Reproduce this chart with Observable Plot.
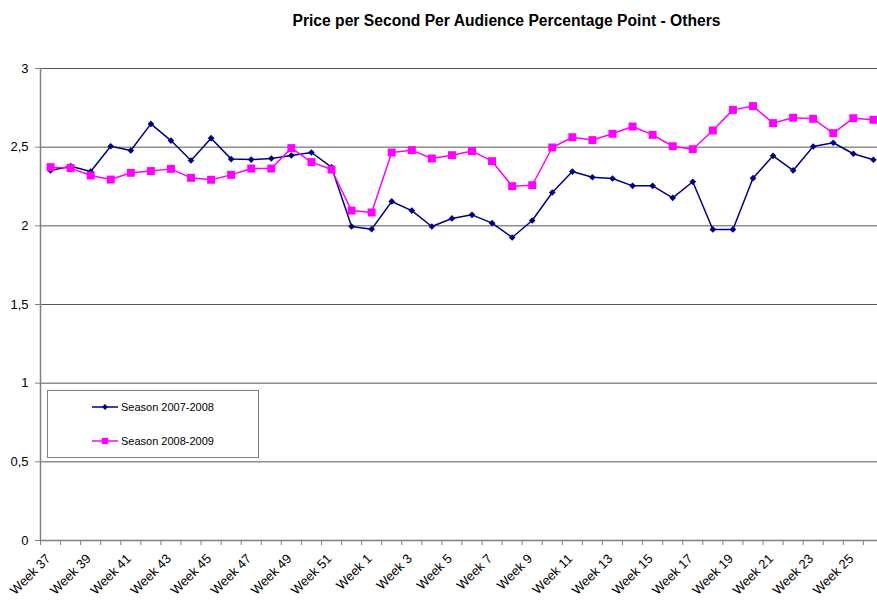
<!DOCTYPE html>
<html><head><meta charset="utf-8">
<script src="https://cdn.jsdelivr.net/npm/d3@7"></script>
<script src="https://cdn.jsdelivr.net/npm/@observablehq/plot@0.6"></script>
<style>
body{margin:0;background:#fff;}
#wrap{position:relative;width:877px;height:601px;overflow:hidden;background:#fff;}
#overlay{position:absolute;left:0;top:0;pointer-events:none;}
</style></head><body><div id="wrap"></div>
<script>
const weeks = ["Week 37","Week 38","Week 39","Week 40","Week 41","Week 42","Week 43","Week 44","Week 45","Week 46","Week 47","Week 48","Week 49","Week 50","Week 51","Week 52",
  "Week 1","Week 2","Week 3","Week 4","Week 5","Week 6","Week 7","Week 8","Week 9","Week 10","Week 11","Week 12","Week 13","Week 14","Week 15","Week 16","Week 17","Week 18","Week 19","Week 20","Week 21","Week 22","Week 23","Week 24","Week 25","Week 26"];
const season0708 = [2.352,2.379,2.345,2.506,2.479,2.648,2.542,2.415,2.557,2.424,2.421,2.428,2.447,2.466,2.373,1.996,
  1.979,2.155,2.097,1.996,2.047,2.070,2.017,1.926,2.034,2.212,2.345,2.309,2.301,2.254,2.254,2.178,2.280,1.977,1.977,2.303,2.445,2.352,2.504,2.528,2.458,2.420];
const season0809 = [2.373,2.367,2.320,2.294,2.337,2.348,2.362,2.305,2.293,2.324,2.364,2.364,2.494,2.405,2.358,2.097,
  2.085,2.466,2.481,2.428,2.449,2.475,2.411,2.252,2.258,2.498,2.563,2.545,2.585,2.631,2.578,2.506,2.487,2.606,2.737,2.761,2.653,2.687,2.680,2.589,2.684,2.674];
const yTicks = [0,0.5,1,1.5,2,2.5,3];
const seriesNames = ["Season 2007-2008","Season 2008-2009"];
const colors = ["#000080","#FF00FF"];
const title = "Price per Second Per Audience Percentage Point - Others";

const n = weeks.length;
const d1 = weeks.map((w,i)=>({i, week:w, value:season0708[i]}));
const d2 = weeks.map((w,i)=>({i, week:w, value:season0809[i]}));
const font = "'Liberation Sans', Arial, sans-serif";

const chart = Plot.plot({
  width:877, height:601, marginLeft:40, marginRight:0, marginTop:68, marginBottom:61,
  style:{fontFamily:font, fontSize:"13px", color:"#000", background:"#fff", overflow:"visible"},
  x:{type:"linear", domain:[-0.5, n-0.5], range:[40, 40 + n*20.07]},
  y:{domain:[0,3]},
  marks:[
    Plot.ruleY(yTicks.slice(1), {stroke:"#555", strokeWidth:1}),
    Plot.ruleY([0], {stroke:"#808080", strokeWidth:1.5}),
    Plot.ruleX([-0.5], {stroke:"#808080", strokeWidth:1.5}),
    Plot.axisY({ticks:yTicks, tickFormat:d=>String(d).replace(".",","), tickSize:5, tickPadding:7, stroke:"#808080", strokeOpacity:1, fontSize:13, label:null}),
    Plot.axisX({ticks:d3.range(n+1).map(k=>k-0.5), tickFormat:()=>"", tickSize:5, stroke:"#808080", strokeOpacity:1, label:null}),
    Plot.axisX({ticks:d3.range(0,n,2), tickFormat:k=>weeks[k], tickSize:0, tickRotate:-45, tickPadding:16, dx:-2, fontSize:13, label:null}),
    Plot.line(d1, {x:"i", y:"value", stroke:colors[0], strokeWidth:1.5}),
    Plot.line(d2, {x:"i", y:"value", stroke:colors[1], strokeWidth:1.5}),
    Plot.dot(d1, {x:"i", y:"value", symbol:"diamond2", r:3, fill:colors[0], stroke:null}),
    Plot.dot(d2, {x:"i", y:"value", symbol:"square", r:4.5, fill:colors[1], stroke:null})
  ]
});
const wrap = document.getElementById("wrap");
wrap.appendChild(chart);

// overlay: title and legend
const svg = d3.select(wrap).append("svg").attr("id","overlay").attr("width",877).attr("height",601)
  .style("font-family", font);
svg.append("text").attr("x",506.5).attr("y",25.5).attr("text-anchor","middle")
  .attr("font-weight","bold").attr("font-size",16).attr("textLength",428).attr("lengthAdjust","spacingAndGlyphs")
  .attr("fill","#000").text(title);
svg.append("rect").attr("x",47.5).attr("y",390.5).attr("width",211).attr("height",67)
  .attr("fill","#fff").attr("stroke","#808080");
const ly = [407, 441];
const syms = [d3.symbol(d3.symbolDiamond2, 22), d3.symbol(d3.symbolSquare, 40)];
seriesNames.forEach((s,k)=>{
  svg.append("line").attr("x1",92).attr("x2",118).attr("y1",ly[k]).attr("y2",ly[k]).attr("stroke",colors[k]).attr("stroke-width",1.5);
  svg.append("path").attr("d",syms[k]()).attr("transform",`translate(105,${ly[k]})`).attr("fill",colors[k]);
  svg.append("text").attr("x",121).attr("y",ly[k]).attr("dy","0.35em").attr("font-size",11).attr("fill","#000").text(s);
});
</script></body></html>
